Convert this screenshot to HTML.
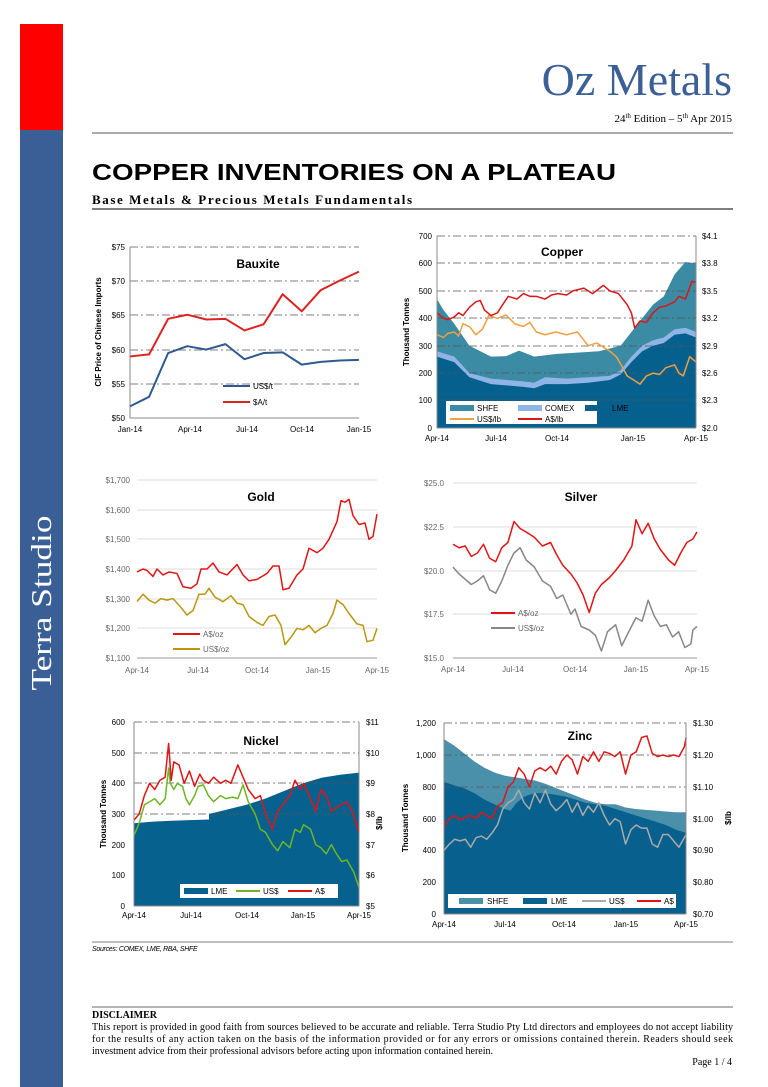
<!DOCTYPE html>
<html><head><meta charset="utf-8"><style>
body{margin:0;background:#fff}
svg{display:block}
.t{font-family:"Liberation Sans",sans-serif;font-size:8px;fill:#000}
.g{font-family:"Liberation Sans",sans-serif;font-size:8px;fill:#666}
.ttl{font-family:"Liberation Sans",sans-serif;font-size:12px;font-weight:bold;fill:#000}
.ax{font-family:"Liberation Sans",sans-serif;font-size:8px;font-weight:bold;fill:#000}
.s{font-family:"Liberation Serif",serif}
.ln{fill:none;vector-effect:non-scaling-stroke;stroke-linejoin:round}
.ar{vector-effect:non-scaling-stroke}
.dd{stroke:#555;stroke-width:0.8;stroke-dasharray:8 3 2 3}
</style></head><body>
<svg width="768" height="1087" viewBox="0 0 768 1087" xmlns="http://www.w3.org/2000/svg">
<rect x="20" y="24" width="43" height="106" fill="#fe0000"/>
<rect x="20" y="130" width="43" height="957" fill="#3a5e96"/>
<text class="s" transform="translate(51,603) rotate(-90)" text-anchor="middle" font-size="28" textLength="175" lengthAdjust="spacingAndGlyphs" fill="#fff">Terra Studio</text>
<text class="s" x="732" y="95" text-anchor="end" font-size="46" fill="#3d5f97">Oz Metals</text>
<text class="s" x="732" y="122" text-anchor="end" font-size="11">24<tspan font-size="7" dy="-4">th</tspan><tspan dy="4"> Edition – 5</tspan><tspan font-size="7" dy="-4">th</tspan><tspan dy="4"> Apr 2015</tspan></text>
<line x1="92" y1="133" x2="733" y2="133" stroke="#555" stroke-width="1"/>
<text x="92" y="180" font-family="Liberation Sans,sans-serif" font-weight="bold" font-size="23" textLength="524" lengthAdjust="spacingAndGlyphs">COPPER INVENTORIES ON A PLATEAU</text>
<text class="s" x="92" y="204" font-weight="bold" font-size="13" textLength="320" lengthAdjust="spacing">Base Metals &amp; Precious Metals Fundamentals</text>
<line x1="92" y1="209" x2="733" y2="209" stroke="#333" stroke-width="1.2"/>

<!-- Bauxite -->
<g>
<line x1="130" y1="247" x2="359" y2="247" class="dd"/><line x1="130" y1="281" x2="359" y2="281" class="dd"/><line x1="130" y1="315" x2="359" y2="315" class="dd"/><line x1="130" y1="350" x2="359" y2="350" class="dd"/><line x1="130" y1="384" x2="359" y2="384" class="dd"/>
<line x1="130" y1="247" x2="130" y2="418" stroke="#888"/><line x1="130" y1="418" x2="359" y2="418" stroke="#888"/>
<g class="t" text-anchor="end"><text x="125" y="250">$75</text><text x="125" y="284">$70</text><text x="125" y="318">$65</text><text x="125" y="353">$60</text><text x="125" y="387">$55</text><text x="125" y="421">$50</text></g>
<g class="t" text-anchor="middle"><text x="130" y="432">Jan-14</text><text x="190" y="432">Apr-14</text><text x="247" y="432">Jul-14</text><text x="302" y="432">Oct-14</text><text x="359" y="432">Jan-15</text></g>
<text class="ax" transform="translate(101,332) rotate(-90)" text-anchor="middle">CIF Price of Chinese Imports</text>
<text class="ttl" x="258" y="268" text-anchor="middle">Bauxite</text>
<g transform="translate(130,418) scale(19.08,-6.84)">
<polyline class="ln" stroke="#dd2222" stroke-width="2" points="0,9 1,9.3 2,14.5 3,15.1 4,14.4 5,14.5 6,12.8 7,13.7 8,18.1 9,15.6 10,18.7 11,20.1 12,21.4"/>
<polyline class="ln" stroke="#2f5a8f" stroke-width="2" points="0,1.7 1,3.1 2,9.5 3,10.5 4,10 5,10.8 6,8.6 7,9.5 8,9.6 9,7.8 10,8.2 11,8.4 12,8.5"/>
</g>
<line x1="223" y1="386" x2="250" y2="386" stroke="#2f5a8f" stroke-width="2"/><text class="t" x="253" y="389">US$/t</text>
<line x1="223" y1="402" x2="250" y2="402" stroke="#dd2222" stroke-width="2"/><text class="t" x="253" y="405">$A/t</text>
</g>

<!-- Copper -->
<g>
<g transform="translate(437,428) scale(21.6,-0.2743)">
<polygon class="ar" fill="#3b8ba4" points="0,0 0,470 0.3,430 0.8,380 1.5,300 2.5,260 3.2,262 3.8,282 4.5,260 5.5,270 6.5,275 7.5,280 8.5,300 9,350 9.5,400 10,450 10.5,480 11,560 11.5,605 12,600 12,0"/>
<polygon class="ar" fill="#8fb5e6" points="0,0 0,280 0.8,260 1.5,200 2.5,180 4,170 4.5,165 5,185 6,180 7,185 8,190 8.5,210 9,260 9.5,300 10,320 10.5,330 11,360 11.5,365 12,350 12,0"/>
<polygon class="ar" fill="#05608e" points="0,0 0,260 0.8,240 1.5,185 2.5,160 4,150 4.5,145 5,160 6,160 7,165 8,175 8.5,195 9,240 9.5,280 10,300 10.5,310 11,340 11.5,345 12,330 12,0"/>
</g>
<line x1="437" y1="236" x2="696" y2="236" class="dd"/><line x1="437" y1="263" x2="696" y2="263" class="dd"/><line x1="437" y1="291" x2="696" y2="291" class="dd"/><line x1="437" y1="318" x2="696" y2="318" class="dd"/><line x1="437" y1="346" x2="696" y2="346" class="dd"/><line x1="437" y1="373" x2="696" y2="373" class="dd"/><line x1="437" y1="400" x2="696" y2="400" class="dd"/>
<g transform="translate(437,428) scale(21.6,-0.2743)">
<polyline class="ln" stroke="#f0a040" stroke-width="1.5" points="0,340 0.3,330 0.5,345 0.8,350 1,335 1.2,380 1.5,370 1.8,340 2.1,360 2.4,410 2.8,400 3.2,412 3.6,380 4,370 4.3,385 4.6,350 5,340 5.5,350 6,340 6.5,350 7,300 7.4,310 8,280 8.3,260 8.6,220 8.8,190 9.1,175 9.4,160 9.7,190 10,200 10.3,195 10.6,220 11,230 11.2,200 11.4,190 11.7,260 12,240"/>
<polyline class="ln" stroke="#dd1515" stroke-width="1.5" points="0,420 0.3,400 0.5,395 0.8,405 1,420 1.2,410 1.5,440 1.8,460 2,465 2.2,430 2.5,410 2.8,420 3,445 3.3,480 3.7,470 4,490 4.3,480 4.6,480 5,470 5.3,485 5.6,490 6,485 6.3,500 6.8,510 7.2,490 7.7,520 8,500 8.4,490 8.8,450 9,420 9.15,365 9.4,390 9.7,385 10,420 10.3,440 10.6,445 11,460 11.2,480 11.5,470 11.8,535 12,530"/>
</g>
<line x1="437" y1="236" x2="437" y2="428" stroke="#888"/><line x1="696" y1="236" x2="696" y2="428" stroke="#888"/><line x1="437" y1="428" x2="696" y2="428" stroke="#888"/>
<g class="t" text-anchor="end"><text x="432" y="239">700</text><text x="432" y="266">600</text><text x="432" y="294">500</text><text x="432" y="321">400</text><text x="432" y="349">300</text><text x="432" y="376">200</text><text x="432" y="403">100</text><text x="432" y="431">0</text></g>
<g class="t"><text x="702" y="239">$4.1</text><text x="702" y="266">$3.8</text><text x="702" y="294">$3.5</text><text x="702" y="321">$3.2</text><text x="702" y="349">$2.9</text><text x="702" y="376">$2.6</text><text x="702" y="403">$2.3</text><text x="702" y="431">$2.0</text></g>
<g class="t" text-anchor="middle"><text x="437" y="441">Apr-14</text><text x="496" y="441">Jul-14</text><text x="557" y="441">Oct-14</text><text x="633" y="441">Jan-15</text><text x="696" y="441">Apr-15</text></g>
<text class="ax" transform="translate(409,332) rotate(-90)" text-anchor="middle">Thousand Tonnes</text>
<text class="ttl" x="562" y="256" text-anchor="middle">Copper</text>
<rect x="446" y="401" width="151" height="23" fill="#fff"/>
<rect x="450" y="405" width="24" height="6" fill="#3b8ba4"/><text class="t" x="477" y="411">SHFE</text>
<rect x="518" y="405" width="24" height="6" fill="#8fb5e6"/><text class="t" x="545" y="411">COMEX</text>
<rect x="585" y="405" width="24" height="6" fill="#05608e"/><text class="t" x="612" y="411">LME</text>
<line x1="450" y1="419" x2="474" y2="419" stroke="#f0a040" stroke-width="2"/><text class="t" x="477" y="422">US$/lb</text>
<line x1="518" y1="419" x2="542" y2="419" stroke="#dd1515" stroke-width="2"/><text class="t" x="545" y="422">A$/lb</text>
</g>

<!-- Gold -->
<g>
<g stroke="#d0d0d0" stroke-width="0.8"><line x1="137" y1="480" x2="377" y2="480"/><line x1="137" y1="510" x2="377" y2="510"/><line x1="137" y1="539" x2="377" y2="539"/><line x1="137" y1="569" x2="377" y2="569"/><line x1="137" y1="599" x2="377" y2="599"/><line x1="137" y1="628" x2="377" y2="628"/></g>
<line x1="137" y1="658" x2="377" y2="658" stroke="#999"/>
<g class="g" text-anchor="end"><text x="130" y="483">$1,700</text><text x="130" y="513">$1,600</text><text x="130" y="542">$1,500</text><text x="130" y="572">$1,400</text><text x="130" y="602">$1,300</text><text x="130" y="631">$1,200</text><text x="130" y="661">$1,100</text></g>
<g class="g" text-anchor="middle"><text x="137" y="673">Apr-14</text><text x="198" y="673">Jul-14</text><text x="257" y="673">Oct-14</text><text x="318" y="673">Jan-15</text><text x="377" y="673">Apr-15</text></g>
<text class="ttl" x="261" y="501" text-anchor="middle">Gold</text>
<g transform="translate(137,658) scale(20,-0.2967)">
<polyline class="ln" stroke="#e01515" stroke-width="1.5" points="0,290 0.3,300 0.5,295 0.8,275 1,300 1.3,280 1.6,290 2,285 2.3,240 2.7,235 3,250 3.2,300 3.5,300 3.8,320 4.1,290 4.5,280 5,315 5.3,280 5.6,260 6,265 6.5,285 6.8,310 7.1,310 7.3,230 7.6,235 8,280 8.3,300 8.6,370 9,355 9.3,370 9.6,400 10,460 10.2,530 10.4,525 10.6,535 10.8,480 11.1,450 11.4,455 11.6,400 11.8,410 12,485"/>
<polyline class="ln" stroke="#bb960e" stroke-width="1.5" points="0,190 0.3,215 0.6,195 0.9,185 1.2,200 1.5,195 1.8,200 2.2,170 2.5,145 2.8,160 3.1,215 3.4,215 3.6,235 3.9,205 4.3,190 4.7,210 5,185 5.3,180 5.6,140 6,120 6.3,110 6.6,140 6.9,145 7.2,110 7.4,45 7.7,70 8,100 8.3,95 8.6,110 8.9,85 9.2,100 9.5,110 9.8,150 10,195 10.3,180 10.6,150 11,115 11.3,110 11.5,55 11.8,60 12,100"/>
</g>
<line x1="173" y1="634" x2="200" y2="634" stroke="#e01515" stroke-width="2"/><text class="g" x="203" y="637">A$/oz</text>
<line x1="173" y1="649" x2="200" y2="649" stroke="#bb960e" stroke-width="2"/><text class="g" x="203" y="652">US$/oz</text>
</g>

<!-- Silver -->
<g>
<g stroke="#d0d0d0" stroke-width="0.8"><line x1="453" y1="483" x2="697" y2="483"/><line x1="453" y1="527" x2="697" y2="527"/><line x1="453" y1="571" x2="697" y2="571"/><line x1="453" y1="614" x2="697" y2="614"/></g>
<line x1="453" y1="658" x2="697" y2="658" stroke="#999"/>
<g class="g" text-anchor="end"><text x="444" y="486">$25.0</text><text x="444" y="530">$22.5</text><text x="444" y="574">$20.0</text><text x="444" y="617">$17.5</text><text x="444" y="661">$15.0</text></g>
<g class="g" text-anchor="middle"><text x="453" y="672">Apr-14</text><text x="513" y="672">Jul-14</text><text x="575" y="672">Oct-14</text><text x="636" y="672">Jan-15</text><text x="697" y="672">Apr-15</text></g>
<text class="ttl" x="581" y="501" text-anchor="middle">Silver</text>
<g transform="translate(453,658) scale(20.33,-17.5)">
<polyline class="ln" stroke="#e01515" stroke-width="1.5" points="0,6.5 0.3,6.3 0.6,6.4 0.9,5.8 1.2,6 1.5,6.5 1.8,5.7 2.1,5.5 2.4,6.3 2.7,6.6 3,7.8 3.3,7.4 3.6,7.2 4,6.9 4.4,6.4 4.8,6.6 5.1,5.9 5.4,5.3 5.8,4.8 6.1,4.3 6.4,3.6 6.7,2.6 7,3.7 7.3,4.2 7.7,4.6 8,5 8.4,5.6 8.8,6.4 9,7.9 9.3,7.1 9.6,7.7 9.9,6.8 10.2,6.2 10.6,5.6 10.9,5.3 11.2,6 11.5,6.6 11.8,6.8 12,7.2"/>
<polyline class="ln" stroke="#888" stroke-width="1.5" points="0,5.2 0.3,4.8 0.6,4.5 0.9,4.2 1.2,4.4 1.5,4.7 1.8,3.9 2.1,3.7 2.4,4.4 2.7,5.3 3,6 3.3,6.3 3.6,5.6 4,5.2 4.4,4.4 4.8,4.1 5.1,3.4 5.4,3.6 5.8,2.5 6,2.8 6.3,1.8 6.7,1.6 7,1.3 7.3,0.4 7.6,1.5 8,1.9 8.3,0.7 8.6,1.4 9,2.3 9.3,2.1 9.6,3.3 9.9,2.4 10.2,1.8 10.5,1.9 10.8,1.2 11.1,1.5 11.4,0.6 11.7,0.8 11.8,1.6 12,1.8"/>
</g>
<line x1="491" y1="613" x2="515" y2="613" stroke="#e01515" stroke-width="2"/><text class="g" x="518" y="616">A$/oz</text>
<line x1="491" y1="628" x2="515" y2="628" stroke="#888" stroke-width="2"/><text class="g" x="518" y="631">US$/oz</text>
</g>

<!-- Nickel -->
<g>
<g transform="translate(134,906) scale(18.75,-0.3067)">
<polygon class="ar" fill="#07618e" points="0,0 0,270 1,275 2,278 3,280 4,282 4,300 5,315 6,330 7,350 8,375 9,400 10,418 11,428 12,435 12,0"/>
</g>
<line x1="134" y1="722" x2="359" y2="722" class="dd"/><line x1="134" y1="753" x2="359" y2="753" class="dd"/><line x1="134" y1="783" x2="359" y2="783" class="dd"/><line x1="134" y1="814" x2="359" y2="814" class="dd"/>
<g transform="translate(134,906) scale(17.31,-0.3067)">
<polyline class="ln" stroke="#6cb623" stroke-width="1.5" points="0,230 0.3,270 0.6,330 0.9,340 1.2,350 1.5,330 1.8,350 2,450 2.1,400 2.3,380 2.5,400 2.8,390 3,350 3.2,330 3.5,360 3.7,390 4,395 4.3,360 4.6,340 5,360 5.3,350 5.7,355 6,350 6.3,395 6.6,340 7,300 7.3,250 7.6,240 8,200 8.3,180 8.6,210 9,190 9.3,250 9.6,240 9.8,265 10.2,250 10.5,200 10.8,190 11.1,170 11.4,200 11.7,170 12,145 12.3,150 12.7,110 13,60"/>
<polyline class="ln" stroke="#e01515" stroke-width="1.5" points="0,280 0.3,300 0.6,360 0.9,400 1.2,380 1.5,410 1.8,420 2,530 2.15,410 2.3,470 2.6,460 2.9,400 3.2,440 3.5,390 3.8,430 4,410 4.3,400 4.6,420 5,400 5.3,410 5.6,400 6,460 6.3,420 6.6,380 7,350 7.3,360 7.6,300 8,250 8.3,310 8.6,330 9,360 9.3,410 9.6,380 9.8,400 10.2,350 10.5,310 10.8,380 11.1,360 11.4,310 11.7,320 12,330 12.3,340 12.6,310 13,240"/>
</g>
<line x1="134" y1="722" x2="134" y2="906" stroke="#888"/><line x1="359" y1="722" x2="359" y2="906" stroke="#888"/><line x1="134" y1="906" x2="359" y2="906" stroke="#888"/>
<g class="t" text-anchor="end"><text x="125" y="725">600</text><text x="125" y="756">500</text><text x="125" y="786">400</text><text x="125" y="817">300</text><text x="125" y="848">200</text><text x="125" y="878">100</text><text x="125" y="909">0</text></g>
<g class="t"><text x="366" y="725">$11</text><text x="366" y="756">$10</text><text x="366" y="786">$9</text><text x="366" y="817">$8</text><text x="366" y="848">$7</text><text x="366" y="878">$6</text><text x="366" y="909">$5</text></g>
<g class="t" text-anchor="middle"><text x="134" y="918">Apr-14</text><text x="191" y="918">Jul-14</text><text x="247" y="918">Oct-14</text><text x="303" y="918">Jan-15</text><text x="359" y="918">Apr-15</text></g>
<text class="ax" transform="translate(106,814) rotate(-90)" text-anchor="middle">Thousand Tonnes</text>
<text class="ax" transform="translate(382,823) rotate(-90)" text-anchor="middle">$/lb</text>
<text class="ttl" x="261" y="745" text-anchor="middle">Nickel</text>
<rect x="180" y="884" width="158" height="14" fill="#fff"/>
<rect x="184" y="888" width="24" height="6" fill="#07618e"/><text class="t" x="211" y="894">LME</text>
<line x1="236" y1="891" x2="260" y2="891" stroke="#6cb623" stroke-width="2"/><text class="t" x="263" y="894">US$</text>
<line x1="288" y1="891" x2="312" y2="891" stroke="#e01515" stroke-width="2"/><text class="t" x="315" y="894">A$</text>
</g>

<!-- Zinc -->
<g>
<g transform="translate(444,914) scale(20.17,-0.159)">
<polygon class="ar" fill="#4a90aa" points="0,0 0,1100 0.5,1060 1,1010 1.5,960 2,920 2.5,890 3,870 3.5,860 4,850 4.5,840 5,820 5.5,795 6,770 6.5,745 7,720 7.5,700 8,690 8.5,690 9,670 9.5,660 10,655 10.5,650 11,645 11.5,640 12,640 12,0"/>
<polygon class="ar" fill="#07608d" points="0,0 0,830 0.5,810 1,790 1.5,760 2,720 2.5,690 3,660 3.3,650 3.6,700 4,740 4.5,760 5,760 5.5,750 6,740 6.5,720 7,700 7.5,690 8,680 8.5,660 9,640 9.5,620 10,600 10.5,580 11,560 11.5,530 12,510 12,0"/>
</g>
<line x1="444" y1="723" x2="686" y2="723" class="dd"/><line x1="444" y1="755" x2="686" y2="755" class="dd"/><line x1="444" y1="787" x2="686" y2="787" class="dd"/>
<g transform="translate(444,914) scale(17.8,-0.159)">
<polyline class="ln" stroke="#aaa" stroke-width="1.5" points="0,400 0.3,440 0.6,470 0.9,460 1.2,470 1.5,420 1.8,480 2.1,490 2.4,470 2.7,510 3,560 3.3,660 3.6,700 3.9,720 4.2,780 4.5,700 4.8,660 5.1,760 5.4,700 5.7,780 6,690 6.3,650 6.6,680 6.9,720 7.2,640 7.5,700 7.8,620 8.1,680 8.4,640 8.7,700 9,620 9.3,560 9.6,600 9.9,580 10.2,440 10.5,530 10.8,560 11.1,540 11.4,540 11.7,440 12,420 12.3,500 12.6,500 13.2,420 13.6,500"/>
<polyline class="ln" stroke="#e01515" stroke-width="1.5" points="0,550 0.3,600 0.6,620 0.9,590 1.2,610 1.5,620 1.8,600 2.1,640 2.4,620 2.7,600 3,680 3.3,700 3.6,800 3.9,830 4.2,920 4.5,880 4.8,800 5.1,900 5.4,920 5.7,900 6,930 6.3,880 6.6,960 6.9,1000 7.2,970 7.5,880 7.8,990 8.1,960 8.4,1020 8.7,960 9,1020 9.3,1010 9.6,990 9.9,1020 10.2,880 10.5,1000 10.8,1020 11.1,1110 11.4,1120 11.7,1010 12,990 12.3,1000 12.6,990 12.9,1000 13.2,990 13.5,1050 13.6,1110"/>
</g>
<line x1="444" y1="723" x2="444" y2="914" stroke="#888"/><line x1="686" y1="723" x2="686" y2="914" stroke="#888"/><line x1="444" y1="914" x2="686" y2="914" stroke="#888"/>
<g class="t" text-anchor="end"><text x="436" y="726">1,200</text><text x="436" y="758">1,000</text><text x="436" y="790">800</text><text x="436" y="822">600</text><text x="436" y="853">400</text><text x="436" y="885">200</text><text x="436" y="917">0</text></g>
<g class="t"><text x="693" y="726">$1.30</text><text x="693" y="758">$1.20</text><text x="693" y="790">$1.10</text><text x="693" y="822">$1.00</text><text x="693" y="853">$0.90</text><text x="693" y="885">$0.80</text><text x="693" y="917">$0.70</text></g>
<g class="t" text-anchor="middle"><text x="444" y="927">Apr-14</text><text x="505" y="927">Jul-14</text><text x="564" y="927">Oct-14</text><text x="626" y="927">Jan-15</text><text x="686" y="927">Apr-15</text></g>
<text class="ax" transform="translate(408,818) rotate(-90)" text-anchor="middle">Thousand Tonnes</text>
<text class="ax" transform="translate(731,818) rotate(-90)" text-anchor="middle">$/lb</text>
<text class="ttl" x="580" y="740" text-anchor="middle">Zinc</text>
<rect x="448" y="894" width="228" height="14" fill="#fff"/>
<rect x="459" y="898" width="24" height="6" fill="#4a90aa"/><text class="t" x="487" y="904">SHFE</text>
<rect x="523" y="898" width="24" height="6" fill="#07608d"/><text class="t" x="551" y="904">LME</text>
<line x1="582" y1="901" x2="606" y2="901" stroke="#aaa" stroke-width="2"/><text class="t" x="609" y="904">US$</text>
<line x1="637" y1="901" x2="661" y2="901" stroke="#e01515" stroke-width="2"/><text class="t" x="664" y="904">A$</text>
</g>

<line x1="92" y1="942" x2="733" y2="942" stroke="#555" stroke-width="0.8"/>
<text x="92" y="951" font-family="Liberation Sans,sans-serif" font-style="italic" font-size="7" letter-spacing="-0.3">Sources: COMEX, LME, RBA, SHFE</text>
<line x1="92" y1="1007" x2="733" y2="1007" stroke="#888" stroke-width="1.2"/>
<text class="s" x="92" y="1018" font-weight="bold" font-size="10">DISCLAIMER</text>
<g class="s" font-size="10">
<text x="92" y="1030" textLength="641" lengthAdjust="spacing">This report is provided in good faith from sources believed to be accurate and reliable. Terra Studio Pty Ltd directors and employees do not accept liability</text>
<text x="92" y="1042" textLength="641" lengthAdjust="spacing">for the results of any action taken on the basis of the information provided or for any errors or omissions contained therein. Readers should seek</text>
<text x="92" y="1054">investment advice from their professional advisors before acting upon information contained herein.</text>
<text x="732" y="1065" text-anchor="end">Page 1 / 4</text>
</g>
</svg>
</body></html>
